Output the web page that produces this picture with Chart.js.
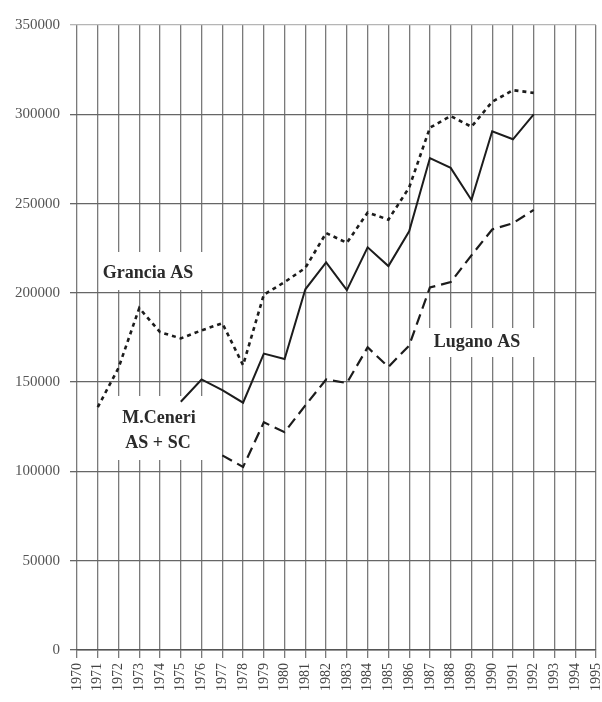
<!DOCTYPE html>
<html>
<head>
<meta charset="utf-8">
<script src="https://cdn.jsdelivr.net/npm/chart.js@4.4.1/dist/chart.umd.min.js"></script>
<style>
  html, body { margin: 0; padding: 0; background: #fff; }
  #wrap { width: 602px; height: 702px; position: relative; }
</style>
</head>
<body>
<div id="wrap"><canvas id="myChart"></canvas></div>
<script>
'use strict'

// years on the x axis
const years = ['1970', '1971', '1972', '1973', '1974', '1975', '1976', '1977', '1978',
  '1979', '1980', '1981', '1982', '1983', '1984', '1985', '1986', '1987', '1988',
  '1989', '1990', '1991', '1992', '1993', '1994', '1995'];

// Grancia AS (dotted)
const grancia = [null, 136000, 158000, 191500, 178000, 174500, 179000, 183000, 159500,
  199000, 206000, 214000, 233500, 228000, 245000, 241000, 259000, 292500, 299000,
  293000, 307000, 313500, 312000, null, null, null];

// M.Ceneri AS + SC (solid)
const ceneri = [null, null, null, null, null, 139000, 151500, 145500, 138500,
  166000, 163000, 202000, 217000, 201500, 225500, 215000, 234500, 275500, 270000,
  252000, 290500, 286000, 300000, null, null, null];

// Lugano AS (dashed)
const lugano = [null, null, null, null, null, null, null, 109000, 102500,
  127500, 122000, 137000, 151500, 149500, 169500, 158500, 170500, 203000, 206000,
  221000, 235500, 239000, 246500, null, null, null];

const yMin = 0;
const yMax = 350000;
const yStep = 50000;

const ink = '#1c1c1c';

// text labels written inside the plot, on a white patch
const seriesLabels = {
  id: 'seriesLabels',
  beforeDatasetsDraw(chart) {
    const ctx = chart.ctx;
    ctx.save();
    ctx.fillStyle = '#fff';
    ctx.fillRect(104, 252, 108, 38);
    ctx.fillRect(112, 396, 100, 64);
    ctx.fillRect(420, 328, 118, 29);

    ctx.fillStyle = '#2a2a2a';
    ctx.font = 'bold 18px "Liberation Serif", "DejaVu Serif", serif';
    ctx.textAlign = 'center';
    ctx.textBaseline = 'middle';
    ctx.fillText('Grancia AS', 148, 273);
    ctx.fillText('M.Ceneri', 159, 418);
    ctx.fillText('AS + SC', 158, 443);
    ctx.fillText('Lugano AS', 477, 342);
    ctx.restore();
  }
};

const ctx = document.getElementById('myChart').getContext('2d');

const myChart = new Chart(ctx, {
  type: 'line',
  data: {
    labels: years,
    datasets: [
      {
        label: 'Grancia AS',
        data: grancia,
        borderColor: ink,
        borderWidth: 2.6,
        borderDash: [4, 4],
        pointRadius: 0,
        tension: 0
      },
      {
        label: 'M.Ceneri AS + SC',
        data: ceneri,
        borderColor: ink,
        borderWidth: 2,
        pointRadius: 0,
        tension: 0
      },
      {
        label: 'Lugano AS',
        data: lugano,
        borderColor: ink,
        borderWidth: 2.2,
        borderDash: [11, 6],
        pointRadius: 0,
        tension: 0
      }
    ]
  },
  options: {
    responsive: true,
    maintainAspectRatio: false,
    animation: false,
    layout: {
      padding: { top: 25, right: 6, bottom: 0, left: 0 }
    },
    plugins: {
      legend: { display: false },
      tooltip: { enabled: false }
    },
    scales: {
      x: {
        offset: false,
        afterFit(scale) {
          scale.height = 52;
          scale.paddingLeft = 0;
          scale.paddingRight = 0;
        },
        grid: {
          color: '#7a7a7a',
          lineWidth: 1.3,
          tickLength: 8
        },
        border: { color: '#555', width: 1.5 },
        ticks: {
          autoSkip: false,
          minRotation: 90,
          maxRotation: 90,
          padding: 5,
          color: '#444',
          font: { family: '"Liberation Serif", serif', size: 14 }
        }
      },
      y: {
        min: yMin,
        max: yMax,
        afterFit(scale) { scale.width = 77; },
        grid: {
          color: (c) => c.tick && c.tick.value === yMax ? '#b5b5b5' : '#666',
          lineWidth: 1.3,
          tickLength: 7
        },
        border: { display: false },
        ticks: {
          stepSize: yStep,
          padding: 10,
          color: '#555',
          font: { family: '"Liberation Serif", serif', size: 15 },
          callback: (v) => String(v)
        }
      }
    }
  },
  plugins: [seriesLabels]
});
</script>
</body>
</html>
